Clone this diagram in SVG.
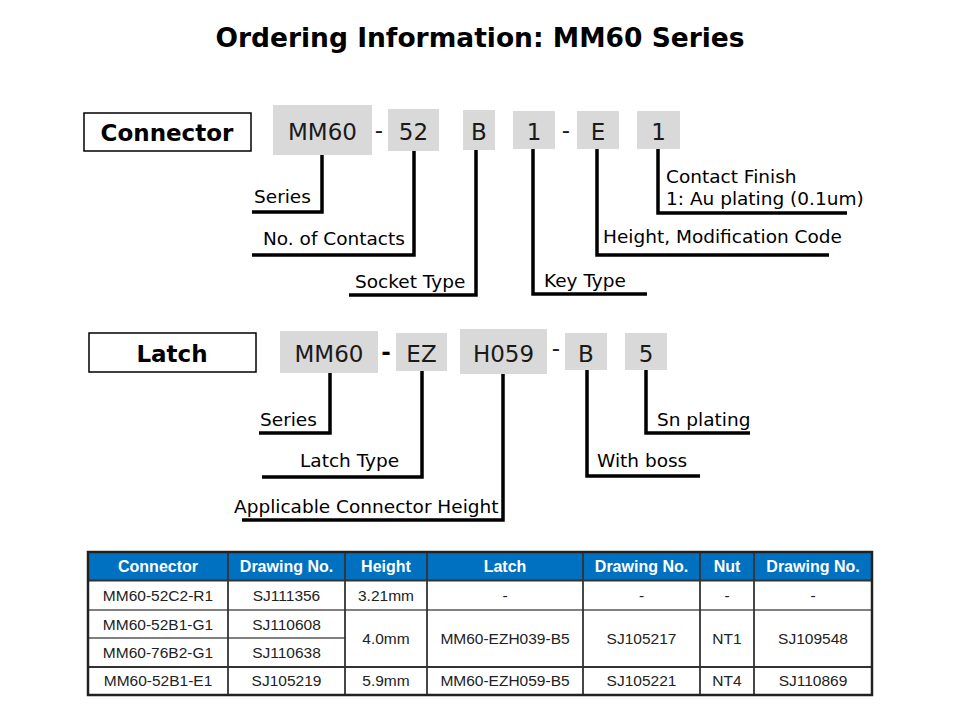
<svg xmlns="http://www.w3.org/2000/svg" width="960" height="720" viewBox="0 0 960 720">
<style>
.title{font-family:"DejaVu Sans",Verdana,sans-serif;font-size:26.5px;font-weight:bold;fill:#000}
.lbl{font-family:"DejaVu Sans",Verdana,sans-serif;font-size:23px;font-weight:bold;fill:#000}
.code{font-family:"DejaVu Sans",Verdana,sans-serif;font-size:23px;fill:#1a1a1a}
.ann{font-family:"DejaVu Sans",Verdana,sans-serif;font-size:18.5px;fill:#000}
.seg{fill:#D9D9D9}
.frame{fill:#fff;stroke:#000;stroke-width:1.5}
.lead{fill:none;stroke:#000;stroke-width:3.5;stroke-linejoin:miter}
.th{font-family:"Liberation Sans",Arial,sans-serif;font-size:16px;font-weight:bold;fill:#fff}
.td{font-family:"Liberation Sans",Arial,sans-serif;font-size:15.5px;fill:#222}
.gl{stroke:#808080;stroke-width:2}
.dl{stroke:#333;stroke-width:1.8}
</style>
<text class="title" x="480" y="47" text-anchor="middle">Ordering Information: MM60 Series</text>

<g id="connector-label"><rect class="frame" x="84" y="113" width="167" height="38"/><text class="lbl" x="167" y="141" text-anchor="middle">Connector</text></g>
<g id="c-mm60"><rect class="seg" x="273" y="105" width="99" height="50"/><text class="code" x="322.5" y="140" text-anchor="middle">MM60</text></g>
<text class="code" x="379" y="138" text-anchor="middle">-</text>
<g id="c-52"><rect class="seg" x="388" y="109" width="51" height="42"/><text class="code" x="413.5" y="140" text-anchor="middle">52</text></g>
<g id="c-b"><rect class="seg" x="463" y="110" width="32" height="40"/><text class="code" x="479" y="140" text-anchor="middle">B</text></g>
<g id="c-1"><rect class="seg" x="513" y="111" width="42" height="38"/><text class="code" x="534" y="140" text-anchor="middle">1</text></g>
<text class="code" x="566" y="138" text-anchor="middle">-</text>
<g id="c-e"><rect class="seg" x="577" y="111" width="42" height="38"/><text class="code" x="598" y="140" text-anchor="middle">E</text></g>
<g id="c-1b"><rect class="seg" x="637" y="111" width="43" height="38"/><text class="code" x="658.5" y="140" text-anchor="middle">1</text></g>

<g id="latch-label"><rect class="frame" x="89" y="333" width="167" height="39"/><text class="lbl" x="172" y="362" text-anchor="middle">Latch</text></g>
<g id="l-mm60"><rect class="seg" x="280" y="331" width="98" height="42"/><text class="code" x="329" y="362" text-anchor="middle">MM60</text></g>
<text class="lbl" x="386" y="360" text-anchor="middle">-</text>
<g id="l-ez"><rect class="seg" x="396" y="333" width="51" height="38"/><text class="code" x="421.5" y="362" text-anchor="middle">EZ</text></g>
<g id="l-h059"><rect class="seg" x="460" y="329" width="87" height="45"/><text class="code" x="503.5" y="362" text-anchor="middle">H059</text></g>
<text class="code" x="556" y="356" text-anchor="middle">-</text>
<g id="l-b"><rect class="seg" x="565" y="333" width="42" height="37"/><text class="code" x="586" y="362" text-anchor="middle">B</text></g>
<g id="l-5"><rect class="seg" x="625" y="333" width="42" height="37"/><text class="code" x="646" y="362" text-anchor="middle">5</text></g>

<g id="connectors">
<path class="lead" d="M322,155 V212 H252"/>
<path class="lead" d="M414,151 V255 H252"/>
<path class="lead" d="M476,150 V295 H349"/>
<path class="lead" d="M533,149 V294 H647"/>
<path class="lead" d="M597,149 V255 H829"/>
<path class="lead" d="M658,149 V213 H847"/>
<path class="lead" d="M330,373 V433 H259"/>
<path class="lead" d="M422,371 V477 H262"/>
<path class="lead" d="M503,374 V520 H242"/>
<path class="lead" d="M587,370 V476 H700"/>
<path class="lead" d="M646,370 V433 H750"/>
</g>

<g id="annotations">
<text class="ann" x="254" y="203">Series</text>
<text class="ann" x="263" y="245">No. of Contacts</text>
<text class="ann" x="355" y="288">Socket Type</text>
<text class="ann" x="544" y="287">Key Type</text>
<text class="ann" x="603" y="243">Height, Modification Code</text>
<text class="ann" x="666" y="183">Contact Finish</text>
<text class="ann" x="666" y="205">1: Au plating (0.1um)</text>
<text class="ann" x="260" y="426">Series</text>
<text class="ann" x="300" y="467">Latch Type</text>
<text class="ann" x="234" y="513">Applicable Connector Height</text>
<text class="ann" x="597" y="467">With boss</text>
<text class="ann" x="657" y="426">Sn plating</text>
</g>

<g id="table">
<rect x="88" y="552" width="784" height="143" fill="#fff"/>
<rect x="88" y="552" width="784" height="28" fill="#0070C0"/>
<line class="gl" x1="88" y1="610" x2="872" y2="610"/>
<line class="gl" x1="88" y1="638" x2="345" y2="638" stroke-width="1.5"/>
<line class="dl" x1="88" y1="667" x2="872" y2="667"/>
<line class="dl" x1="88" y1="580.5" x2="872" y2="580.5" stroke-width="2"/>
<line class="dl" x1="228" y1="552" x2="228" y2="695"/>
<line class="dl" x1="345" y1="552" x2="345" y2="695"/>
<line class="dl" x1="427" y1="552" x2="427" y2="695"/>
<line class="dl" x1="583" y1="552" x2="583" y2="695"/>
<line class="dl" x1="700" y1="552" x2="700" y2="695"/>
<line class="dl" x1="754" y1="552" x2="754" y2="695"/>
<rect x="88" y="552" width="784" height="143" fill="none" stroke="#222" stroke-width="2.5"/>
<text class="th" x="158" y="572" text-anchor="middle">Connector</text>
<text class="th" x="286.5" y="572" text-anchor="middle">Drawing No.</text>
<text class="th" x="386" y="572" text-anchor="middle">Height</text>
<text class="th" x="505" y="572" text-anchor="middle">Latch</text>
<text class="th" x="641.5" y="572" text-anchor="middle">Drawing No.</text>
<text class="th" x="727" y="572" text-anchor="middle">Nut</text>
<text class="th" x="813" y="572" text-anchor="middle">Drawing No.</text>
<text class="td" x="158" y="601" text-anchor="middle">MM60-52C2-R1</text>
<text class="td" x="286.5" y="601" text-anchor="middle">SJ111356</text>
<text class="td" x="386" y="601" text-anchor="middle">3.21mm</text>
<text class="td" x="505" y="601" text-anchor="middle">-</text>
<text class="td" x="641.5" y="601" text-anchor="middle">-</text>
<text class="td" x="727" y="601" text-anchor="middle">-</text>
<text class="td" x="813" y="601" text-anchor="middle">-</text>
<text class="td" x="158" y="630" text-anchor="middle">MM60-52B1-G1</text>
<text class="td" x="286.5" y="630" text-anchor="middle">SJ110608</text>
<text class="td" x="158" y="658" text-anchor="middle">MM60-76B2-G1</text>
<text class="td" x="286.5" y="658" text-anchor="middle">SJ110638</text>
<text class="td" x="386" y="644" text-anchor="middle">4.0mm</text>
<text class="td" x="505" y="644" text-anchor="middle">MM60-EZH039-B5</text>
<text class="td" x="641.5" y="644" text-anchor="middle">SJ105217</text>
<text class="td" x="727" y="644" text-anchor="middle">NT1</text>
<text class="td" x="813" y="644" text-anchor="middle">SJ109548</text>
<text class="td" x="158" y="686" text-anchor="middle">MM60-52B1-E1</text>
<text class="td" x="286.5" y="686" text-anchor="middle">SJ105219</text>
<text class="td" x="386" y="686" text-anchor="middle">5.9mm</text>
<text class="td" x="505" y="686" text-anchor="middle">MM60-EZH059-B5</text>
<text class="td" x="641.5" y="686" text-anchor="middle">SJ105221</text>
<text class="td" x="727" y="686" text-anchor="middle">NT4</text>
<text class="td" x="813" y="686" text-anchor="middle">SJ110869</text>
</g>
</svg>
